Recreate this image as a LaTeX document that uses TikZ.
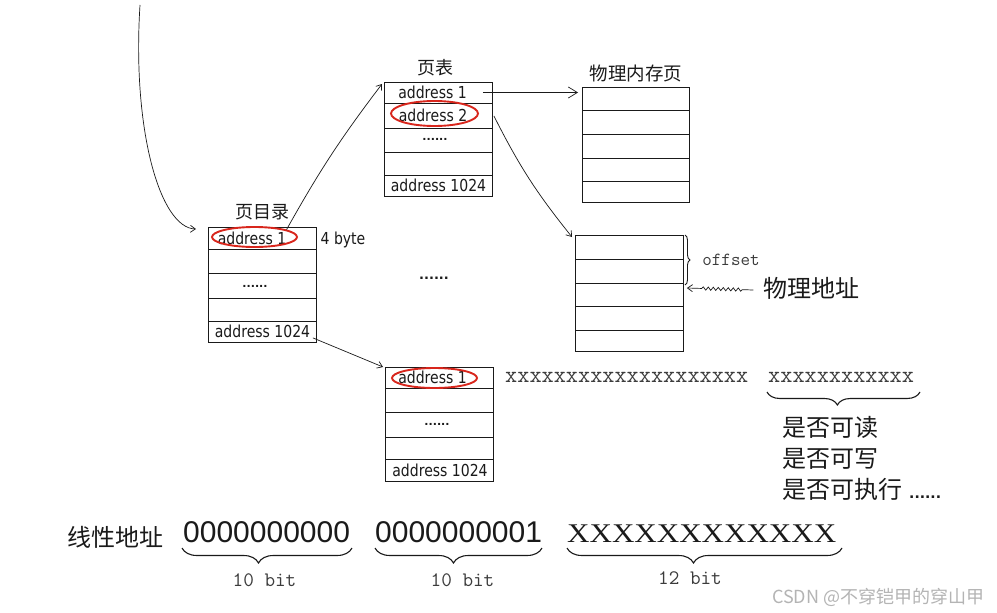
\documentclass[tikz,border=0pt]{standalone}
\usepackage{fontspec}
\usepackage{graphicx}
\usetikzlibrary{arrows.meta,shapes.geometric,decorations.pathreplacing,decorations.pathmorphing,calc}
\newfontfamily\cjk{Noto Sans CJK SC}
\newfontfamily\hand{DejaVu Sans}
\newfontfamily\lsans{Liberation Sans}
\newfontfamily\lserif{Liberation Serif}
\newcommand\fsz[1]{\fontsize{#1}{#1}\selectfont}
\newcommand\addr[1]{{\hand\fsz{16.5}\scalebox{0.85}[1]{#1}}}
\newcommand\dotsrow[1]{{\hand\bfseries\fsz{#1}......}}
\definecolor{ink}{HTML}{1A1A1A}
\definecolor{ellred}{HTML}{D8261C}
\definecolor{grayt}{HTML}{3C3C3C}
\definecolor{wm}{HTML}{B4B4B4}
\begin{document}
\begin{tikzpicture}[x=1pt,y=-1pt,
  cell/.style={draw=ink, line width=0.9pt, rectangle, inner sep=0pt, anchor=north west},
  txt/.style={inner sep=0pt, text=ink},
  redell/.style={draw=ellred, line width=1.9pt, ellipse, inner sep=0pt},
  arr/.style={draw=ink, line width=0.7pt, -{Straight Barb[length=5pt,width=7pt]}},
  bigarr/.style={draw=ink, line width=0.7pt, -{Straight Barb[length=9pt,width=11pt]}},
  brc/.style={draw=ink, line width=1.1pt, decorate}
]
\fill[white] (0,0) rectangle (997,613);
\useasboundingbox (0,0) rectangle (997,613);

% ---------- page directory ----------
\node[cell, minimum width=108, minimum height=22] (pd1) at (208,227) {};
\node[cell, minimum width=108, minimum height=24] (pd2) at (208,249) {};
\node[cell, minimum width=108, minimum height=25] (pd3) at (208,273) {};
\node[cell, minimum width=108, minimum height=23] (pd4) at (208,298) {};
\node[cell, minimum width=108, minimum height=21] (pd5) at (208,321) {};
\node[txt] (pdt1) at (252,238) {\addr{address 1}};
\node[txt] (pdt3) at (255,286) {\dotsrow{11}};
\node[txt] (pdt5) at (262.5,331.5) {\addr{address 1024}};
\node[txt] (pdtitle) at (262,212) {\cjk\fsz{18}页目录};
\node[txt] (byte) at (343,240) {\addr{4 byte}};
\node[redell, minimum width=85, minimum height=20] (e1) at (254.5,237) {};

% ---------- page table 1 ----------
\node[cell, minimum width=108, minimum height=21] (pa1) at (384,82) {};
\node[cell, minimum width=108, minimum height=25] (pa2) at (384,103) {};
\node[cell, minimum width=108, minimum height=24] (pa3) at (384,128) {};
\node[cell, minimum width=108, minimum height=23] (pa4) at (384,152) {};
\node[cell, minimum width=108, minimum height=21] (pa5) at (384,175) {};
\node[txt] (pat1) at (432.5,92.5) {\addr{address 1}};
\node[txt] (pat2) at (433,115) {\addr{address 2}};
\node[txt] (pat3) at (435,139) {\dotsrow{11}};
\node[txt] (pat5) at (438.5,185) {\addr{address 1024}};
\node[txt] (patitle) at (435.5,68) {\cjk\fsz{18}页表};
\node[redell, minimum width=87, minimum height=25] (e2) at (434.5,113.5) {};

% ---------- physical page 1 ----------
\node[cell, minimum width=107, minimum height=23] (ph1) at (582,87) {};
\node[cell, minimum width=107, minimum height=24] (ph2) at (582,110) {};
\node[cell, minimum width=107, minimum height=24] (ph3) at (582,134) {};
\node[cell, minimum width=107, minimum height=23] (ph4) at (582,158) {};
\node[cell, minimum width=107, minimum height=21] (ph5) at (582,181) {};
\node[txt] (phtitle) at (636,73) {\cjk\fsz{18.5}物理内存页};

% ---------- physical page 2 ----------
\node[cell, minimum width=108, minimum height=24] (pq1) at (575,235) {};
\node[cell, minimum width=108, minimum height=24] (pq2) at (575,259) {};
\node[cell, minimum width=108, minimum height=23] (pq3) at (575,283) {};
\node[cell, minimum width=108, minimum height=24] (pq4) at (575,306) {};
\node[cell, minimum width=108, minimum height=21] (pq5) at (575,330) {};
\node[txt, text=grayt] (offset) at (731,260) {\ttfamily\fsz{18.5}offset};
\node[txt] (phys) at (811.5,288) {\cjk\fsz{24}物理地址};
\coordinate (bt) at (685,235);
\coordinate (bb) at (685,285);
\draw[brc, line width=0.9pt, decoration={brace, amplitude=5pt}] (bt) -- (bb);

% ---------- page table 2 ----------
\node[cell, minimum width=108, minimum height=21] (pb1) at (385,367) {};
\node[cell, minimum width=108, minimum height=24] (pb2) at (385,388) {};
\node[cell, minimum width=108, minimum height=25] (pb3) at (385,412) {};
\node[cell, minimum width=108, minimum height=22] (pb4) at (385,437) {};
\node[cell, minimum width=108, minimum height=22] (pb5) at (385,459) {};
\node[txt] (pbt1) at (432.5,377.5) {\addr{address 1}};
\node[txt] (pbt3) at (437,424) {\dotsrow{11}};
\node[txt] (pbt5) at (440,470) {\addr{address 1024}};
\node[redell, minimum width=85, minimum height=20] (e3) at (434.5,378) {};

\node[txt] (middots) at (434,278) {\dotsrow{13}};

% ---------- entry bits ----------
\node[txt, anchor=west, text=grayt] (xa) at (505,377.5) {\ttfamily\fsz{23.6}xxxxxxxxxxxxxxxxxxxx};
\node[txt, anchor=west, text=grayt] (xb) at (768,377.5) {\ttfamily\fsz{23.6}xxxxxxxxxxxx};
\coordinate (xbr) at (920,392);
\coordinate (xbl) at (767,392);
\draw[brc, decoration={brace, amplitude=13pt, aspect=0.54}] (xbr) -- (xbl);
\node[txt, anchor=west] (f1) at (782,427) {\cjk\fsz{24}是否可读};
\node[txt, anchor=west] (f2) at (782,459) {\cjk\fsz{24}是否可写};
\node[txt, anchor=west] (f3) at (782,489) {\cjk\fsz{24}是否可执行\hspace{7pt}\dotsrow{14}};

% ---------- linear address ----------
\node[txt] (lin) at (115,537) {\cjk\fsz{24}线性地址};
\node[txt, anchor=west] (b1) at (183,532.5) {\lsans\fsz{30}0000000000};
\node[txt, anchor=west] (b2) at (375,532.5) {\lsans\fsz{30}0000000001};
\node[txt, anchor=west] (b3) at (567,534) {\lserif\fsz{27}\scalebox{1.15}[1]{XXXXXXXXXXXX}};
\coordinate (br1r) at (352,548); \coordinate (br1l) at (182,548);
\coordinate (br2r) at (542,548); \coordinate (br2l) at (375,548);
\coordinate (br3r) at (842,548); \coordinate (br3l) at (567,548);
\draw[brc, decoration={brace, amplitude=15pt, aspect=0.55}] (br1r) -- (br1l);
\draw[brc, decoration={brace, amplitude=15pt, aspect=0.53}] (br2r) -- (br2l);
\draw[brc, decoration={brace, amplitude=15pt, aspect=0.54}] (br3r) -- (br3l);
\node[txt, text=grayt] (l1) at (264.5,580) {\ttfamily\fsz{20.6}10 bit};
\node[txt, text=grayt] (l2) at (462.5,580) {\ttfamily\fsz{20.6}10 bit};
\node[txt, text=grayt] (l3) at (690,578) {\ttfamily\fsz{20.6}12 bit};

\node[txt, anchor=west, text=wm] (csdn) at (772,597) {\cjk\fsz{18}CSDN @不穿铠甲的穿山甲};

% ---------- connectors ----------
\coordinate (top) at (140,5);
\coordinate (cin) at (196,229);
\draw[arr] (top) .. controls (132,130) and (160,228) .. (cin);
\draw[arr] (e1.13) to[bend left=4] ($(pa1.north west)+(-2,2)$);
\draw[arr] ($(pd5.south east)+(-4,-5)$) -- ($(pb1.north west)+(-2,0)$);
\draw[bigarr] ($(pat1.east)+(16,0)$) -- ($(pat1.east -| ph1.west)+(-4,0)$);
\draw[arr] ($(pa2.east)+(1,0)$) to[bend right=6] ($(pq1.north west)+(-3,2)$);
\draw[arr, decorate, decoration={snake, amplitude=1.6pt, segment length=5pt, pre length=11pt, post length=14pt}] ($(phys.west)+(-10,2)$) -- ($(pq3.north east)+(3,5)$);
\end{tikzpicture}
\end{document}
